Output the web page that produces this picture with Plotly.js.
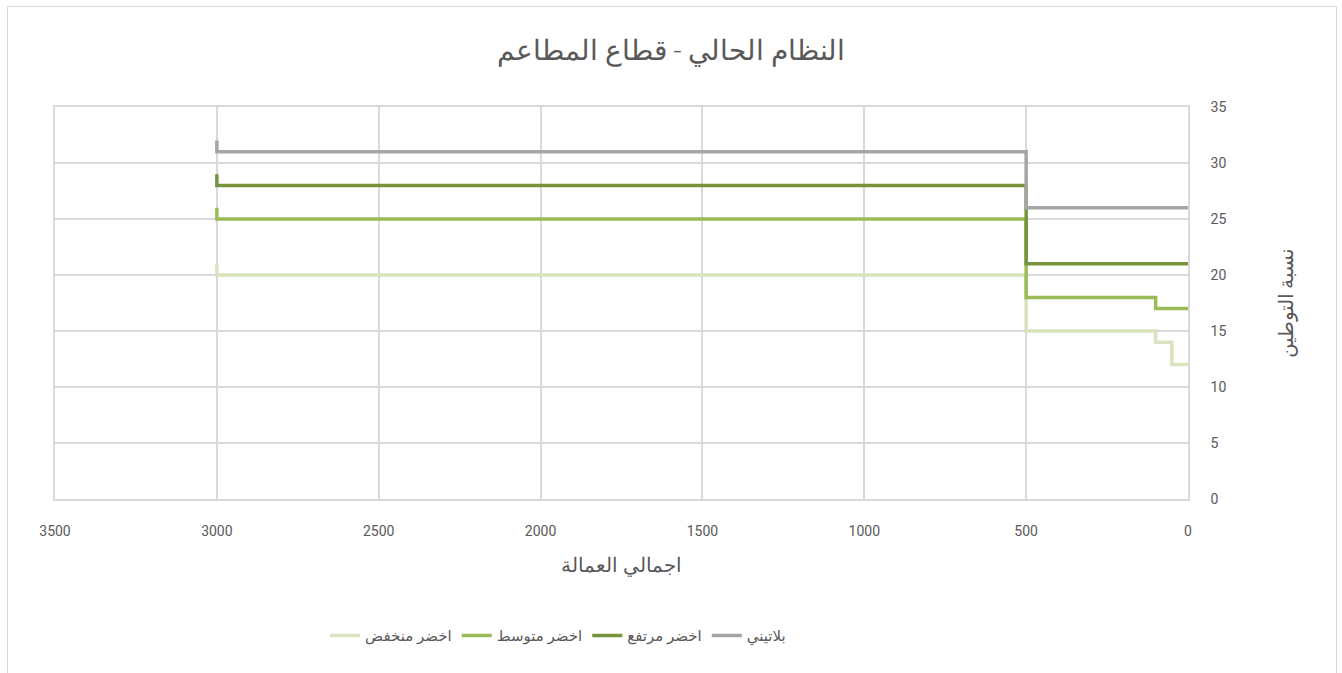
<!DOCTYPE html>
<html>
<head>
<meta charset="utf-8">
<script src="https://cdn.plot.ly/plotly-3.0.1.min.js"></script>
<style>
html,body{margin:0;padding:0;background:#fff;}
#wrap{position:relative;width:1342px;height:673px;}
#chart{position:absolute;left:0;top:0;width:1342px;height:673px;}
#frame{position:absolute;left:7px;top:6px;width:1328px;height:680px;border:1px solid #d9d9d9;pointer-events:none;}
</style>
</head>
<body>
<div id="wrap"><div id="chart"></div><div id="frame"></div></div>
<script>
// Series names (legend order, left to right)
const seriesNames = ["اخضر منخفض", "اخضر متوسط", "اخضر مرتفع", "بلاتيني"];
const seriesColors = ["#d7e4bd", "#9bbb59", "#77933c", "#a5a5a5"];

// Step series: total workers (x) vs localization rate (y)
const lowX    = [3000, 3000, 500, 500, 100, 100, 50, 50, 0];
const lowY    = [21, 20, 20, 15, 15, 14, 14, 12, 12];
const midX    = [3000, 3000, 500, 500, 100, 100, 0];
const midY    = [26, 25, 25, 18, 18, 17, 17];
const highX   = [3000, 3000, 500, 500, 0];
const highY   = [29, 28, 28, 21, 21];
const platX   = [3000, 3000, 500, 500, 0];
const platY   = [32, 31, 31, 26, 26];

const xTicks = [0, 500, 1000, 1500, 2000, 2500, 3000, 3500];
const yTicks = [0, 5, 10, 15, 20, 25, 30, 35];

const titleText = "النظام الحالي - قطاع المطاعم";
const xTitle = "اجمالي العمالة";
const yTitle = "نسبة التوطين";

const FONT = 'Roboto, "DejaVu Sans", sans-serif';
const xs = [lowX, midX, highX, platX];
const ys = [lowY, midY, highY, platY];

const traces = seriesNames.map((n, i) => ({
  type: "scatter", mode: "lines", name: n,
  x: xs[i], y: ys[i],
  line: {color: seriesColors[i], width: 3.5},
  hoverinfo: "x+y+name"
}));

const layout = {
  width: 1342, height: 673,
  paper_bgcolor: "rgba(0,0,0,0)", plot_bgcolor: "#fff",
  margin: {l: 55, r: 154, t: 107, b: 174},
  font: {family: FONT, color: "#595959", size: 14},
  title: {text: titleText, font: {size: 28, color: "#595959", family: FONT, weight: 300}, x: 0.5, xanchor: "center", y: 0.925, yanchor: "middle"},
  xaxis: {
    range: [3500, 0], tickvals: xTicks, ticktext: xTicks.map(String),
    showgrid: true, gridcolor: "#d9d9d9", gridwidth: 1.5,
    showline: true, linecolor: "#d9d9d9", linewidth: 1.5, mirror: true,
    zeroline: false, ticks: "", ticklabelstandoff: 18,
    tickfont: {size: 14, color: "#595959"},
    title: {text: xTitle, font: {size: 20, color: "#595959", weight: 300}, standoff: 20}
  },
  yaxis: {
    side: "right", range: [0, 35], tickvals: yTicks, ticktext: yTicks.map(String),
    showgrid: true, gridcolor: "#d9d9d9", gridwidth: 1.5,
    showline: true, linecolor: "#d9d9d9", linewidth: 1.5, mirror: true,
    zeroline: false, ticks: "", ticklabelstandoff: 18,
    tickfont: {size: 14, color: "#595959"},
    title: {text: yTitle, font: {size: 20, color: "#595959", weight: 300}, standoff: 54}
  },
  showlegend: true,
  legend: {orientation: "h", x: 0.444, xanchor: "center", y: -0.349, yanchor: "middle",
    font: {size: 15, color: "#595959"}, traceorder: "normal", itemwidth: 30},
  hovermode: "closest"
};

Plotly.newPlot("chart", traces, layout, {displayModeBar: false, responsive: false});
</script>
</body>
</html>
